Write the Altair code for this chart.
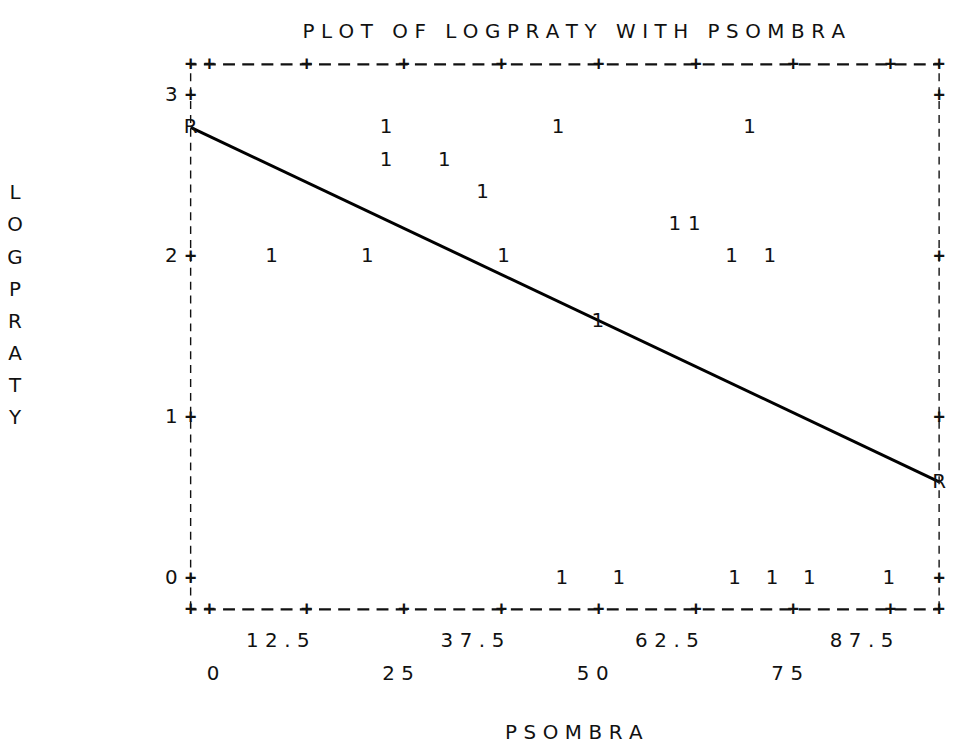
import altair as alt
import pandas as pd

# ---------------- text ----------------
TITLE = "PLOT OF LOGPRATY WITH PSOMBRA"
X_TITLE = "PSOMBRA"
Y_TITLE = "LOGPRATY"
POINT_SYMBOL = "1"
REG_SYMBOL = "R"

# ---------------- data ----------------
PSOMBRA = [7.6, 19.9, 22.3, 22.3, 29.8, 34.7, 37.4, 44.4, 49.5, 59.4,
           61.9, 66.7, 69.0, 71.6, 44.9, 52.2, 67.1, 71.9, 76.7, 86.9]
LOGPRATY = [2.0, 2.0, 2.8, 2.6, 2.6, 2.4, 2.0, 2.8, 1.6, 2.2,
            2.2, 2.0, 2.8, 2.0, 0.0, 0.0, 0.0, 0.0, 0.0, 0.0]

# regression line end points (the two "R" marks)
REG_X = [-2.42, 93.75]
REG_Y = [2.80, 0.60]

# tick values / labels
X_TICKS_ROW1 = [12.5, 37.5, 62.5, 87.5]
X_TICKS_ROW2 = [0, 25, 50, 75]
Y_TICKS = [0, 1, 2, 3]

# scale domains and frame edges
X_DOMAIN = [-2.42, 94.0]
Y_DOMAIN = [-0.191, 3.191]
FRAME_X = [-2.42, 93.75]
FRAME_Y = [-0.191, 3.191]

# ---------------- styling ----------------
FONT = "DejaVu Sans"
MONO = "DejaVu Sans Mono"
FS = 20
ROW = 32.4          # printer line pitch in px
SP = "\u2004"       # three-per-em space used as letter spacing
INK = "#111111"


def spread(s):
    return SP.join(s)


def fmt(v):
    return str(int(v)) if float(v).is_integer() else str(v)


xs = alt.Scale(domain=X_DOMAIN, nice=False, zero=False)
ys = alt.Scale(domain=Y_DOMAIN, nice=False, zero=False)


def X(f):
    return alt.X(f"{f}:Q", scale=xs, axis=None)


def Y(f):
    return alt.Y(f"{f}:Q", scale=ys, axis=None)


# frame: horizontal dashed borders
h_df = pd.DataFrame({"x": [FRAME_X[0]] * 2, "x2": [FRAME_X[1]] * 2, "y": FRAME_Y})
h_rules = alt.Chart(h_df).mark_rule(
    color=INK, strokeWidth=2.2, strokeDash=[12, 7.33], strokeDashOffset=6
).encode(x=X("x"), x2="x2", y=Y("y"))

# frame: vertical dashed borders
v_df = pd.DataFrame({"x": FRAME_X, "y": [FRAME_Y[0]] * 2, "y2": [FRAME_Y[1]] * 2})
v_rules = alt.Chart(v_df).mark_rule(
    color=INK, strokeWidth=1.4, strokeDash=[8, 6]
).encode(x=X("x"), y=Y("y"), y2="y2")

# "+" tick marks on the frame
x_tick_all = sorted(X_TICKS_ROW1 + X_TICKS_ROW2)
plus_rows = [(x, y) for x in [FRAME_X[0]] + x_tick_all + [FRAME_X[1]] for y in FRAME_Y]
plus_rows += [(x, y) for x in FRAME_X for y in Y_TICKS]
plus_df = pd.DataFrame(plus_rows, columns=["x", "y"])
plus_df["t"] = "+"
pluses = alt.Chart(plus_df).mark_text(
    font=MONO, fontSize=19, fontWeight="bold", color=INK, baseline="middle"
).encode(x=X("x"), y=Y("y"), text="t:N")

# y tick labels
yl_df = pd.DataFrame({"y": Y_TICKS, "x": [FRAME_X[0]] * len(Y_TICKS),
                      "t": [fmt(v) for v in Y_TICKS]})
y_labels = alt.Chart(yl_df).mark_text(
    font=FONT, fontSize=FS, color=INK, align="right", baseline="middle", dx=-13
).encode(x=X("x"), y=Y("y"), text="t:N")

# x tick labels, two staggered rows (last character sits on the tick column)
xl1_df = pd.DataFrame({"x": X_TICKS_ROW1, "y": [FRAME_Y[0]] * 4,
                       "t": [spread(fmt(v)) for v in X_TICKS_ROW1]})
x_labels1 = alt.Chart(xl1_df).mark_text(
    font=FONT, fontSize=FS, color=INK, align="right", baseline="middle",
    dx=3, dy=ROW
).encode(x=X("x"), y=Y("y"), text="t:N")
xl2_df = pd.DataFrame({"x": X_TICKS_ROW2, "y": [FRAME_Y[0]] * 4,
                       "t": [spread(fmt(v)) for v in X_TICKS_ROW2]})
x_labels2 = alt.Chart(xl2_df).mark_text(
    font=FONT, fontSize=FS, color=INK, align="right", baseline="middle",
    dx=10, dy=2 * ROW
).encode(x=X("x"), y=Y("y"), text="t:N")

# data points
pt_df = pd.DataFrame({"PSOMBRA": PSOMBRA, "LOGPRATY": LOGPRATY})
pt_df["t"] = POINT_SYMBOL
points = alt.Chart(pt_df).mark_text(
    font=FONT, fontSize=FS, color=INK, baseline="middle", dx=3
).encode(x=X("PSOMBRA"), y=Y("LOGPRATY"), text="t:N")

# regression line and its R markers
reg_df = pd.DataFrame({"x": REG_X, "y": REG_Y})
reg_df["t"] = REG_SYMBOL
reg_line = alt.Chart(reg_df).mark_line(color="black", strokeWidth=3).encode(
    x=X("x"), y=Y("y"))
reg_marks = alt.Chart(reg_df).mark_text(
    font=FONT, fontSize=FS, color=INK, baseline="middle"
).encode(x=X("x"), y=Y("y"), text="t:N")

# titles
title = alt.Chart(pd.DataFrame({"t": [spread(TITLE)]})).mark_text(
    font=FONT, fontSize=FS, color=INK, align="center", baseline="middle"
).encode(x=alt.value(386), y=alt.value(-ROW), text="t:N")

x_title = alt.Chart(pd.DataFrame({"t": [spread(X_TITLE)]})).mark_text(
    font=FONT, fontSize=FS, color=INK, align="center", baseline="middle"
).encode(x=alt.value(386), y=alt.value(674), text="t:N")

y_title = alt.Chart(pd.DataFrame({"t": ["\n".join(Y_TITLE)]})).mark_text(
    font=FONT, fontSize=FS, color=INK, align="center", baseline="middle",
    lineBreak="\n", lineHeight=ROW
).encode(x=alt.value(-177), y=alt.value(130), text="t:N")

chart = alt.layer(
    h_rules, v_rules, reg_line, pluses, y_labels, x_labels1, x_labels2,
    points, reg_marks, title, x_title, y_title
).properties(
    width=756, height=549,
    padding={"left": 184, "top": 54, "right": 8, "bottom": 139},
    autosize=alt.AutoSizeParams(type="none"),
    background="white",
).configure_view(stroke=None)

chart.save("out.html", embed_options={"renderer": "svg", "actions": False})
